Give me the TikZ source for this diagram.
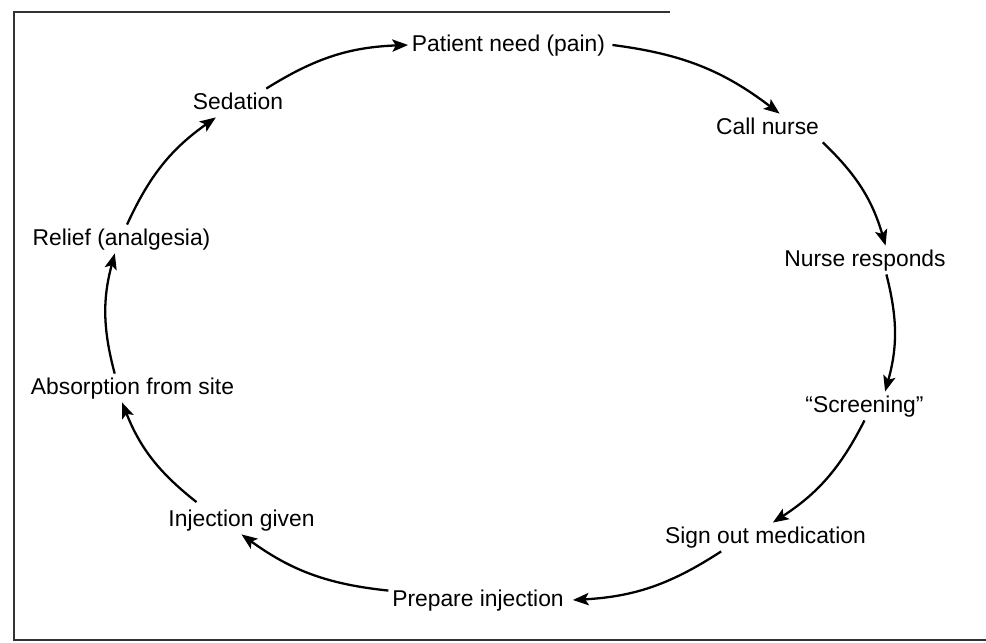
\documentclass[tikz,border=0pt]{standalone}
\usepackage{fontspec}
\setmainfont{Liberation Sans}
\usetikzlibrary{arrows.meta}

\begin{document}
\begin{tikzpicture}[
  stage/.style={font=\fontsize{13}{15}\selectfont, inner sep=2pt, text height=9.5pt, text depth=2.5pt},
  flow/.style={-{Stealth[length=9pt, width=7pt, inset=2pt]}, line width=1.3pt, bend left=15}
]
  \useasboundingbox (0,0) rectangle (19.72,12.84);
  % Frame
  \draw[line width=1pt, black!80] (13.4,12.6) -- (0.28,12.6) -- (0.28,0.04) -- (19.72,0.04);
  % Stages of the cycle
  \node[stage] (need)       at (10.17,11.94) {Patient need (pain)};
  \node[stage] (call)       at (15.35,10.28) {Call nurse};
  \node[stage] (responds)   at (17.30,7.64)  {Nurse responds};
  \node[stage] (screening)  at (17.29,4.72)  {``Screening''};
  \node[stage] (signout)    at (15.31,2.10)  {Sign out medication};
  \node[stage] (prepare)    at (9.56,0.84)   {Prepare injection};
  \node[stage] (given)      at (4.83,2.44)   {Injection given};
  \node[stage] (absorption) at (2.65,5.08)   {Absorption from site};
  \node[stage] (relief)     at (2.43,8.06)   {Relief (analgesia)};
  \node[stage] (sedation)   at (4.76,10.78)  {Sedation};
  % Arrows round the cycle
  \draw[flow] (sedation.27) to (need.west);
  \draw[flow] ([xshift=2pt]need.east) to (call.50);
  \draw[flow] (call.south east) to (responds.35);
  \draw[flow] (responds.-34) to (screening.35);
  \draw[flow] (screening.south) to (signout.63);
  \draw[flow] (signout.-162) to ([xshift=3pt]prepare.east);
  \draw[flow] (prepare.174) to (given.south);
  \draw[flow] ([xshift=-0.9cm, yshift=2pt]given.north) to (absorption.-126);
  \draw[flow] (absorption.141) to (relief.-115);
  \draw[flow] (relief.69) to (sedation.-147);
\end{tikzpicture}
\end{document}
